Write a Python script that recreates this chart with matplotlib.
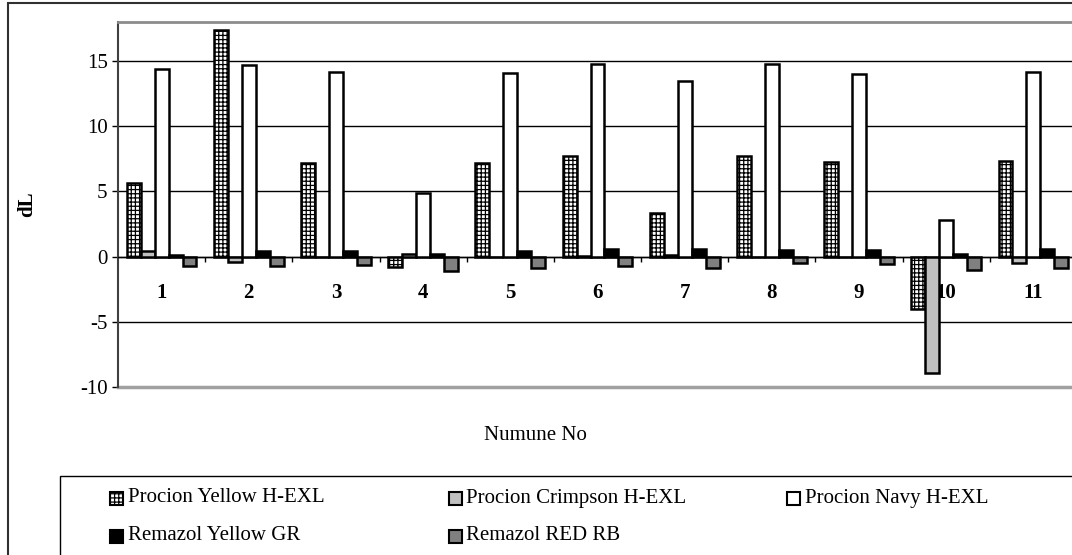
import numpy as np
import matplotlib
matplotlib.use("Agg")
import matplotlib.pyplot as plt
from matplotlib.patches import Rectangle

plt.rcParams['font.family'] = ['Liberation Serif', 'DejaVu Serif']
plt.rcParams['hatch.linewidth'] = 0.9
plt.rcParams['axes.unicode_minus'] = False

# Data
categories = ['1', '2', '3', '4', '5', '6', '7', '8', '9', '10', '11']
series_names = ['Procion Yellow H-EXL', 'Procion Crimpson H-EXL', 'Procion Navy H-EXL',
                'Remazol Yellow GR', 'Remazol RED RB']
procion_yellow = [5.65, 17.4, 7.2, -0.8, 7.2, 7.7, 3.35, 7.7, 7.25, -4.05, 7.3]
procion_crimpson = [0.45, -0.4, -0.05, 0.2, -0.05, 0.05, 0.1, -0.05, -0.05, -8.95, -0.45]
procion_navy = [14.4, 14.7, 14.15, 4.9, 14.1, 14.8, 13.5, 14.8, 14.0, 2.8, 14.2]
remazol_yellow = [0.15, 0.45, 0.4, 0.2, 0.4, 0.55, 0.55, 0.5, 0.5, 0.2, 0.6]
remazol_red = [-0.7, -0.7, -0.65, -1.1, -0.85, -0.7, -0.9, -0.45, -0.55, -1.0, -0.85]
yticks = [-10, -5, 0, 5, 10, 15]

values = [procion_yellow, procion_crimpson, procion_navy, remazol_yellow, remazol_red]
faces = ['white', '#c0c0c0', 'white', 'black', '#808080']
hatches = ['++++', None, None, None, None]

W, H = 1072, 555
fig = plt.figure(figsize=(W / 100, H / 100), dpi=100)
# plot area runs a little past the right edge, as in the original
ax = fig.add_axes([118 / W, 1 - 387 / H, 959 / W, 365 / H])

x = np.arange(len(categories))
width = 0.16
for i, vals in enumerate(values):
    ax.bar(x + (i - 2) * width, vals, width, color=faces[i], edgecolor='black',
           linewidth=1.8, hatch=hatches[i], zorder=3)

ax.set_xlim(-0.5, len(categories) - 0.5)
ax.set_ylim(-10, 18)
ax.set_yticks(yticks)
ax.yaxis.grid(True, color='black', linewidth=1)
ax.set_axisbelow(True)
ax.tick_params(axis='y', direction='out', length=4.5, width=1, pad=3, labelsize=15)

ax.spines['right'].set_visible(False)
ax.spines['left'].set_color('#404040')
ax.spines['left'].set_linewidth(1.5)
ax.spines['top'].set_color('#8c8c8c')
ax.spines['top'].set_linewidth(2)
ax.spines['bottom'].set_position(('data', 0))
ax.spines['bottom'].set_color('black')
ax.spines['bottom'].set_linewidth(1)
ax.axhline(-10, color='#a0a0a0', linewidth=2.5, clip_on=False, zorder=2)

ax.set_xticks(x)
ax.set_xticklabels(categories, fontweight='bold')
ax.set_xticks(np.arange(0.5, len(categories) - 0.5), minor=True)
ax.tick_params(axis='x', which='major', length=0, pad=19, labelsize=15)
ax.tick_params(axis='x', which='minor', direction='out', length=3.6, width=1)

fig.text(27 / W, 1 - 204 / H, 'dL', rotation=90, fontweight='bold', fontsize=15,
         ha='center', va='center')
fig.text(535 / W, 1 - 436 / H, 'Numune No', fontsize=15, ha='center', va='center')

# outer chart border (cut off on the right and bottom)
fig.add_artist(Rectangle((8 / W, -0.1), 1.2, 1.1 - 3 / H, transform=fig.transFigure,
                         fill=False, edgecolor='#303030', linewidth=1.5))
# legend box
fig.add_artist(Rectangle((60 / W, -0.1), 1.2, 0.1 + 1 - 476 / H, transform=fig.transFigure,
                         fill=False, edgecolor='black', linewidth=1))
for i, name in enumerate(series_names):
    col, row = i % 3, i // 3
    mx = 110 + col * 338.5
    my = 498 + row * 38
    fig.add_artist(Rectangle((mx / W, 1 - (my + 6.5) / H), 13 / W, 13 / H,
                             transform=fig.transFigure, facecolor=faces[i],
                             edgecolor='black', linewidth=1.5, hatch=hatches[i]))
    fig.text((mx + 18) / W, 1 - my / H, name, fontsize=15, ha='left', va='center')

fig.savefig('out.png', dpi=100)
